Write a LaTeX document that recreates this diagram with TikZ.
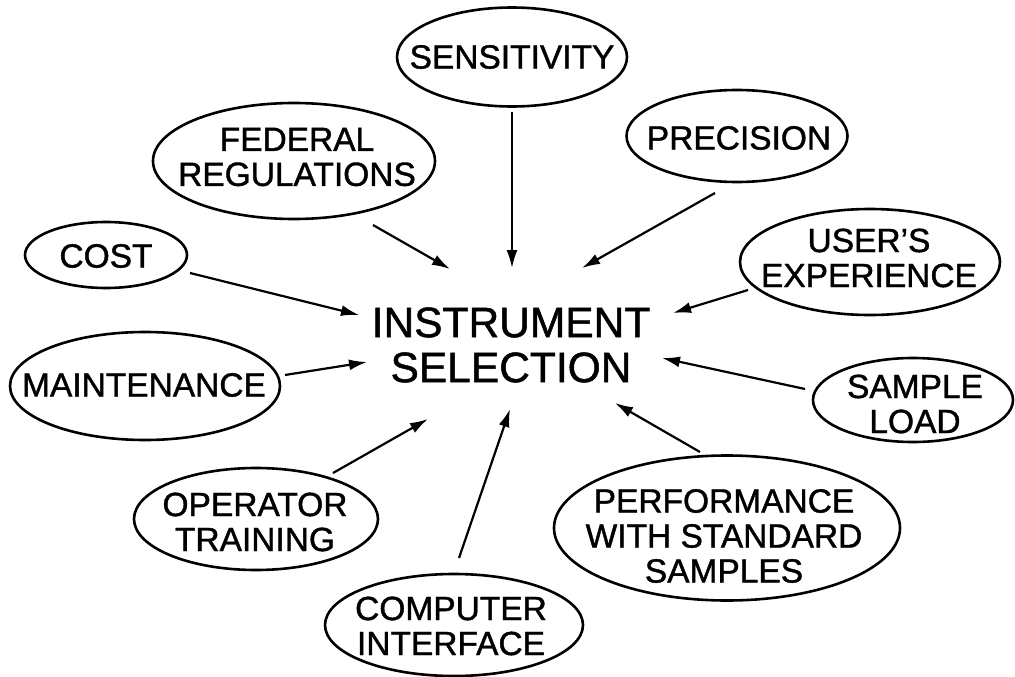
\documentclass[tikz,border=0pt]{standalone}
\usepackage{fontspec}
\setmainfont{Liberation Sans}[FakeBold=1.2]
\usetikzlibrary{shapes.geometric,arrows.meta}
\begin{document}
\begin{tikzpicture}[x=1pt,y=-1pt,
  oval/.style={ellipse, draw, line width=2.6pt, inner sep=0pt},
  txt/.style={align=center, inner sep=0pt, font=\fontsize{33.5}{35}\selectfont},
  bigtxt/.style={align=center, inner sep=0pt, font=\fontsize{42.5}{45}\selectfont},
  arr/.style={line width=2.2pt, -{Latex[length=18pt,width=11pt]}}]
\useasboundingbox (0,0) rectangle (1015,677);

% ellipses
\node[oval, minimum width=230pt, minimum height=99pt] (sens) at (512,57) {};
\node[oval, minimum width=282pt, minimum height=116pt] (fed) at (294,161) {};
\node[oval, minimum width=221pt, minimum height=92pt] (prec) at (737,136) {};
\node[oval, minimum width=162pt, minimum height=66pt] (cost) at (106,255) {};
\node[oval, minimum width=260pt, minimum height=106pt] (user) at (870,262) {};
\node[oval, minimum width=270pt, minimum height=108pt] (maint) at (145,386) {};
\node[oval, minimum width=200pt, minimum height=84pt] (samp) at (913,400) {};
\node[oval, minimum width=244pt, minimum height=102pt] (oper) at (256,519) {};
\node[oval, minimum width=346pt, minimum height=145pt] (perf) at (727,528) {};
\node[oval, minimum width=258pt, minimum height=102pt] (comp) at (454,625) {};

% labels
\node[txt] (sensL) at (512,57) {SENSITIVITY};
\node[txt] (fedL) at (297,157) {FEDERAL\\REGULATIONS};
\node[txt] (precL) at (739,138) {PRECISION};
\node[txt] (costL) at (106,256) {COST};
\node[txt] (userL) at (869,258) {USER'S\\EXPERIENCE};
\node[txt] (maintL) at (144,385) {MAINTENANCE};
\node[txt] (sampL) at (915,404) {SAMPLE\\LOAD};
\node[txt] (operL) at (255,522) {OPERATOR\\TRAINING};
\node[txt] (perfL) at (724,536) {PERFORMANCE\\WITH STANDARD\\SAMPLES};
\node[txt] (compL) at (451,626) {COMPUTER\\INTERFACE};
\node[bigtxt] (inst) at (511,345) {INSTRUMENT\\SELECTION};

% arrow end points
\coordinate (sensS) at (512,112);  \coordinate (sensT) at (512,268);
\coordinate (fedS)  at (373,225);  \coordinate (fedT)  at (450,269);
\coordinate (precS) at (715,193);  \coordinate (precT) at (582,268);
\coordinate (costS) at (190,273);  \coordinate (costT) at (359,315);
\coordinate (userS) at (748,290);  \coordinate (userT) at (673,313);
\coordinate (maintS) at (285,375); \coordinate (maintT) at (367,362);
\coordinate (sampS) at (805,389);  \coordinate (sampT) at (662,358);
\coordinate (operS) at (333,473);  \coordinate (operT) at (428,419);
\coordinate (compS) at (459,558);  \coordinate (compT) at (510,409);
\coordinate (perfS) at (700,452);  \coordinate (perfT) at (615,403);

\draw[arr] (sensS) -- (sensT);
\draw[arr] (fedS) -- (fedT);
\draw[arr] (precS) -- (precT);
\draw[arr] (costS) -- (costT);
\draw[arr] (userS) -- (userT);
\draw[arr] (maintS) -- (maintT);
\draw[arr] (sampS) -- (sampT);
\draw[arr] (operS) -- (operT);
\draw[arr] (compS) -- (compT);
\draw[arr] (perfS) -- (perfT);
\end{tikzpicture}
\end{document}
